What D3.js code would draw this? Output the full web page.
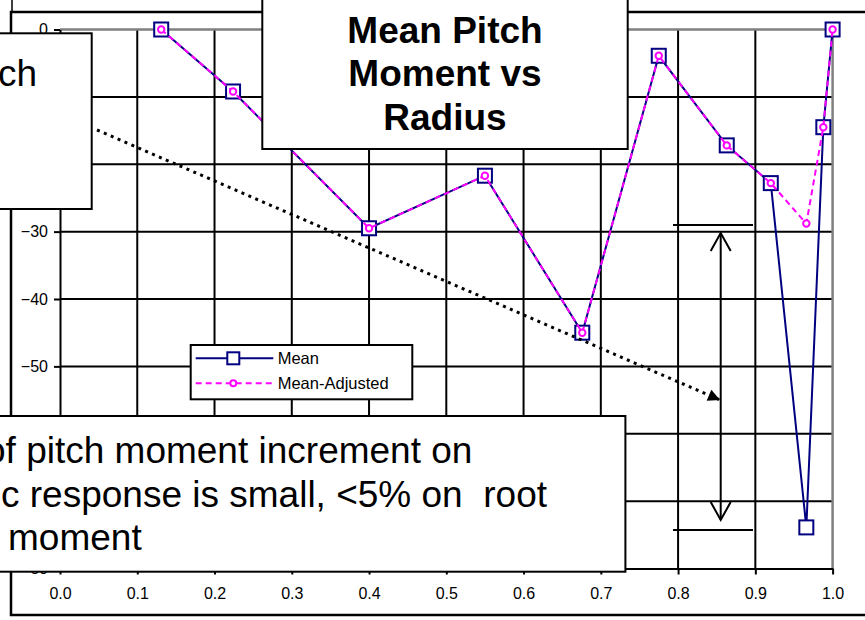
<!DOCTYPE html>
<html>
<head>
<meta charset="utf-8">
<script src="https://cdn.jsdelivr.net/npm/d3@7"></script>
<style>
  html, body { margin: 0; padding: 0; background: #fff; }
  svg { display: block; font-family: "Liberation Sans", Arial, sans-serif; }
  .pre { white-space: pre; }
</style>
</head>
<body>
<svg id="chart" width="865" height="620"></svg>
<script>
// ---- data ----
const radius       = [0.131, 0.224, 0.400, 0.550, 0.676, 0.775, 0.863, 0.920, 0.966, 0.988, 1.000];
const mean         = [0.0, -9.2, -29.5, -21.7, -45.0, -3.9, -17.2, -22.8, -73.9, -14.5, 0.0];
const meanAdjusted = [0.0, -9.2, -29.5, -21.7, -45.0, -3.9, -17.2, -22.8, -28.8, -14.5, 0.0];
const xTicks = [0.0, 0.1, 0.2, 0.3, 0.4, 0.5, 0.6, 0.7, 0.8, 0.9, 1.0];
const yTicks = [0, -10, -20, -30, -40, -50, -60, -70, -80];
const seriesNames = ["Mean", "Mean-Adjusted"];
const titleLines = ["Mean Pitch", "Moment vs", "Radius"];
const noteLines = ["of pitch moment increment on", "c response is small, <5% on  root", "moment"];
const leftNote = "Pitch";

// ---- layout ----
const svg = d3.select("#chart");
const FONT = '"Liberation Sans", Arial, sans-serif';
const x = d3.scaleLinear().domain([0, 1]).range([60, 832.6]);
const y = d3.scaleLinear().domain([-80, 0]).range([568.5, 29.5]);
const NAVY = "#000080", MAG = "#FF00FF";

// outer chart border
svg.append("line").attr("x1", 12).attr("x2", 12).attr("y1", 0).attr("y2", 12)
  .attr("stroke", "#000").attr("stroke-width", 1.5);
svg.append("rect").attr("x", 11).attr("y", 12).attr("width", 880).attr("height", 603)
  .attr("fill", "#fff").attr("stroke", "#000").attr("stroke-width", 2.5);

// grid lines
const g = svg.append("g");
g.selectAll("line.hg").data(yTicks.filter(d => d < 0 && d > -80)).join("line")
  .attr("x1", x(0)).attr("x2", x(1)).attr("y1", d => y(d)).attr("y2", d => y(d))
  .attr("stroke", "#000").attr("stroke-width", 2);
g.selectAll("line.vg").data(xTicks.filter(d => d > 0 && d < 1)).join("line")
  .attr("x1", d => x(d)).attr("x2", d => x(d)).attr("y1", y(0)).attr("y2", y(-80))
  .attr("stroke", "#000").attr("stroke-width", 2);
// plot-area border (top & right grey)
g.append("path").attr("d", `M${x(0)},${y(0)}H${x(1)}V${y(-80)}`)
  .attr("fill", "none").attr("stroke", "#808080").attr("stroke-width", 2.5);

// axes
const xAxis = d3.axisBottom(x).tickValues(xTicks).tickFormat(d3.format(".1f")).tickSize(6).tickSizeOuter(0);
const yAxis = d3.axisLeft(y).tickValues(yTicks).tickFormat(d3.format("d")).tickSize(6).tickSizeOuter(0);
const gx = svg.append("g").attr("transform", `translate(0,${y(-80)})`).call(xAxis);
const gy = svg.append("g").attr("transform", `translate(${x(0)},0)`).call(yAxis);
[gx, gy].forEach(a => {
  a.select(".domain").attr("stroke", "#000").attr("stroke-width", 2);
  a.selectAll(".tick line").attr("stroke", "#000").attr("stroke-width", 2);
  a.selectAll(".tick text").attr("fill", "#000").style("font-family", FONT).style("font-size", "16px");
});
gx.selectAll(".tick text").attr("dy", "0.71em").attr("y", 19);
gy.selectAll(".tick text").attr("x", -12);

// series
const ptsMean = radius.map((r, i) => [r, mean[i]]);
const ptsAdj = radius.map((r, i) => [r, meanAdjusted[i]]);
const line = d3.line().x(d => x(d[0])).y(d => y(d[1]));
svg.append("path").attr("d", line(ptsMean)).attr("fill", "none")
  .attr("stroke", NAVY).attr("stroke-width", 2);
svg.selectAll("rect.mk").data(ptsMean).join("rect")
  .attr("x", d => x(d[0]) - 7).attr("y", d => y(d[1]) - 7).attr("width", 14).attr("height", 14)
  .attr("fill", "#fff").attr("stroke", NAVY).attr("stroke-width", 2);
svg.append("path").attr("d", line(ptsAdj)).attr("fill", "none")
  .attr("stroke", MAG).attr("stroke-width", 2).attr("stroke-dasharray", "6 4");
svg.selectAll("circle.mk").data(ptsAdj).join("circle")
  .attr("cx", d => x(d[0])).attr("cy", d => y(d[1])).attr("r", 3.2)
  .attr("fill", "#fff").attr("stroke", MAG).attr("stroke-width", 2);

// annotations: dotted arrow
const defs = svg.append("defs");
defs.append("marker").attr("id", "tri").attr("viewBox", "0 0 10 10").attr("refX", 10).attr("refY", 5)
  .attr("markerWidth", 16).attr("markerHeight", 12).attr("markerUnits", "userSpaceOnUse").attr("orient", "auto")
  .append("path").attr("d", "M0,0L10,5L0,10Z").attr("fill", "#000");
svg.append("line").attr("x1", 97).attr("y1", 130).attr("x2", 720).attr("y2", 400)
  .attr("stroke", "#000").attr("stroke-width", 3).attr("stroke-dasharray", "3 4.5")
  .attr("marker-end", "url(#tri)");

// double vertical arrow with bars
const ax = 720.7;
svg.append("line").attr("x1", 673).attr("x2", 753).attr("y1", 225).attr("y2", 225).attr("stroke", "#000").attr("stroke-width", 2);
svg.append("line").attr("x1", 673).attr("x2", 753).attr("y1", 530).attr("y2", 530).attr("stroke", "#000").attr("stroke-width", 2);
svg.append("line").attr("x1", ax).attr("x2", ax).attr("y1", 233).attr("y2", 520).attr("stroke", "#000").attr("stroke-width", 2);
svg.append("path").attr("d", `M${ax - 10},${251}L${ax},${233}L${ax + 10},${251}`).attr("fill", "none").attr("stroke", "#000").attr("stroke-width", 2);
svg.append("path").attr("d", `M${ax - 10},${502}L${ax},${520}L${ax + 10},${502}`).attr("fill", "none").attr("stroke", "#000").attr("stroke-width", 2);

// text boxes
function box(x0, y0, x1, y1) {
  svg.append("rect").attr("x", x0).attr("y", y0).attr("width", x1 - x0).attr("height", y1 - y0)
    .attr("fill", "#fff").attr("stroke", "#000").attr("stroke-width", 2);
}
box(-10, 33.3, 91.7, 209);
svg.append("text").attr("x", 37).attr("y", 86).attr("text-anchor", "end")
  .style("font-size", "37px").attr("fill", "#000").text(leftNote);

box(262.3, -10, 627.7, 149);
svg.append("g").selectAll("text").data(titleLines).join("text")
  .attr("x", 445).attr("y", (d, i) => 42.5 + i * 43.5).attr("text-anchor", "middle")
  .style("font-size", "37px").style("font-weight", "bold").attr("fill", "#000").text(d => d);

box(-10, 416, 625.4, 571.7);
const noteX = [-15, 1, 8];
svg.append("g").selectAll("text").data(noteLines).join("text").attr("class", "pre")
  .attr("x", (d, i) => noteX[i]).attr("y", (d, i) => 463 + i * 43.5)
  .style("font-size", "37px").attr("fill", "#000").text(d => d);

// legend
const lg = svg.append("g");
lg.append("rect").attr("x", 190.7).attr("y", 345).attr("width", 221.6).attr("height", 54.3)
  .attr("fill", "#fff").attr("stroke", "#000").attr("stroke-width", 2);
const ly = [358.3, 383.3];
lg.append("line").attr("x1", 195.7).attr("x2", 273.3).attr("y1", ly[0]).attr("y2", ly[0]).attr("stroke", NAVY).attr("stroke-width", 2);
lg.append("rect").attr("x", 233.3 - 6).attr("y", ly[0] - 6).attr("width", 12).attr("height", 12)
  .attr("fill", "#fff").attr("stroke", NAVY).attr("stroke-width", 2);
lg.append("line").attr("x1", 195.7).attr("x2", 273.3).attr("y1", ly[1]).attr("y2", ly[1]).attr("stroke", MAG).attr("stroke-width", 2).attr("stroke-dasharray", "6 4");
lg.append("circle").attr("cx", 233.3).attr("cy", ly[1]).attr("r", 3).attr("fill", "#fff").attr("stroke", MAG).attr("stroke-width", 2);
lg.selectAll("text").data(seriesNames).join("text")
  .attr("x", 277.7).attr("y", (d, i) => ly[i] + 6).style("font-size", "16.5px").attr("fill", "#000").text(d => d);
</script>
</body>
</html>
